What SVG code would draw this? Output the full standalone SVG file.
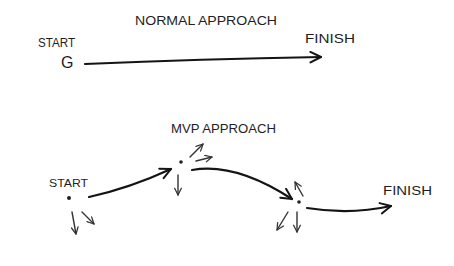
<svg xmlns="http://www.w3.org/2000/svg" width="454" height="266" viewBox="0 0 454 266">
<defs>
<style>
.t{font-family:"Liberation Sans","DejaVu Sans",sans-serif;fill:#1e1e1e;}
.c{fill:none;stroke:#141414;stroke-linecap:round;}
.thick{stroke-width:2.2;}
.thin{stroke-width:1.4;stroke:#333;}
.dot{fill:#222;}
</style>
<marker id="ah" viewBox="0 0 10 10" refX="9" refY="5" markerWidth="6" markerHeight="6" orient="auto" markerUnits="strokeWidth">
<path d="M1,1 L9,5 L1,9" fill="none" stroke="#141414" stroke-width="1.5" stroke-linecap="round" stroke-linejoin="round"/>
</marker>
<marker id="ahs" viewBox="0 0 10 10" refX="9" refY="5" markerWidth="6" markerHeight="6" orient="auto" markerUnits="strokeWidth">
<path d="M1,1 L9,5 L1,9" fill="none" stroke="#333" stroke-width="1.5" stroke-linecap="round" stroke-linejoin="round"/>
</marker>
</defs>
<rect width="454" height="266" fill="#fff"/>
<text class="t" x="135" y="25" font-size="13" textLength="142" lengthAdjust="spacingAndGlyphs">NORMAL APPROACH</text>
<text class="t" x="171" y="133" font-size="13" textLength="105" lengthAdjust="spacingAndGlyphs">MVP APPROACH</text>
<g id="connectors">
<path class="c thick" d="M85,64 Q200,59 321,57" marker-end="url(#ah)"/>
<path class="c thick" d="M89,197 Q130,188 171,169" marker-end="url(#ah)"/>
<path class="c thick" d="M192,170 Q235,162 292,199" marker-end="url(#ah)"/>
<path class="c thick" d="M307,208 Q350,215 391,206" marker-end="url(#ah)"/>
<path class="c thin" d="M72,212 L76,234" marker-end="url(#ahs)"/>
<path class="c thin" d="M82,212 L94,224" marker-end="url(#ahs)"/>
<path class="c thin" d="M190,157 L203,144" marker-end="url(#ahs)"/>
<path class="c thin" d="M196,161 L212,157" marker-end="url(#ahs)"/>
<path class="c thin" d="M178,175 L178,195" marker-end="url(#ahs)"/>
<path class="c thin" d="M303,196 L295,182" marker-end="url(#ahs)"/>
<path class="c thin" d="M297,212 L297,232" marker-end="url(#ahs)"/>
<path class="c thin" d="M288,212 L277,230" marker-end="url(#ahs)"/>
</g>
<g id="normal-start">
<text class="t" x="38" y="47" font-size="12" textLength="37" lengthAdjust="spacingAndGlyphs">START</text>
<text class="t" x="61" y="68" font-size="16">G</text>
</g>
<g id="normal-finish">
<text class="t" x="305" y="43" font-size="13" textLength="50" lengthAdjust="spacingAndGlyphs">FINISH</text>
</g>
<g id="mvp-start">
<text class="t" x="49" y="187" font-size="11" textLength="39" lengthAdjust="spacingAndGlyphs">START</text>
<circle class="dot" cx="69" cy="198" r="2"/>
</g>
<g id="mvp-step1">
<circle class="dot" cx="181" cy="162" r="1.8"/>
</g>
<g id="mvp-step2">
<circle class="dot" cx="299" cy="202" r="1.8"/>
</g>
<g id="mvp-finish">
<text class="t" x="383" y="195" font-size="12" textLength="49" lengthAdjust="spacingAndGlyphs">FINISH</text>
</g>
</svg>
